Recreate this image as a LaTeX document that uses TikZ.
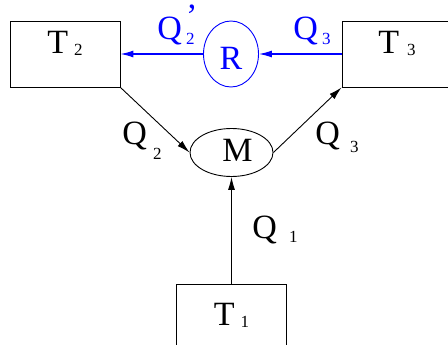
\documentclass[tikz,border=0pt]{standalone}
\usepackage{fontspec}
\setmainfont{Liberation Serif}
\usetikzlibrary{arrows.meta,shapes.geometric}
\newcommand{\lblfont}{\fontsize{34}{34}\selectfont}
\newcommand{\idxfont}{\fontsize{17}{17}\selectfont}
% letter, index, gap, drop of the index
\newcommand{\withidx}[4]{#1\hspace{#3}\raisebox{-#4}{\idxfont #2}}
\tikzset{
  tank/.style={draw, line width=0.9pt, minimum width=110pt, minimum height=66pt,
    inner sep=0pt, font=\lblfont, text height=24pt, text depth=24pt},
  flowlbl/.style={anchor=base west, inner sep=0pt, font=\lblfont},
}

\begin{document}
\begin{tikzpicture}[x=1pt,y=-1pt,line width=0.9pt,>={Latex[length=13pt,width=7pt]}]
\useasboundingbox (0,0) rectangle (448,345);
\clip (0,0) rectangle (448,345);

\node[tank] (t2) at (65,54) {\withidx{T}{2}{6pt}{2pt}};
\node[tank] (t3) at (397,54) {\withidx{T}{3}{8pt}{2pt}};
\node[tank,text depth=8pt] (t1) at (231.5,317) {\withidx{T}{1}{6pt}{2pt}};

\node[ellipse,draw,blue,minimum width=55pt,minimum height=66pt,inner sep=0pt,
  font=\lblfont,text height=32pt,text depth=0pt] (r) at (231,54) {R\hspace{7pt}};
\node[ellipse,draw,minimum width=83pt,minimum height=48pt,inner sep=0pt,
  font=\lblfont,text height=24pt,text depth=7pt] (m) at (231.5,152.5) {\hspace{12pt}M};

\draw[->] (t2.south east) -- (m.west);
\draw[->] (m.east) -- (t3.south west);
\draw[->] (t1.north) -- (m.south);
\draw[->,blue,line width=1.2pt] (t3.west) -- (r.east);
\draw[->,blue,line width=1.2pt] (r.west) -- (t2.east);

\node[flowlbl,blue] (q2r) at (157,40)
  {Q\hspace{4pt}\rlap{\raisebox{12pt}{’}}\raisebox{-5pt}{\idxfont 2}};
\node[flowlbl,blue] (q3r) at (293,40) {\withidx{Q}{3}{4pt}{5pt}};
\node[flowlbl] (q2) at (122,145) {\withidx{Q}{2}{6pt}{15pt}};
\node[flowlbl] (q3) at (315,145) {\withidx{Q}{3}{10pt}{8pt}};
\node[flowlbl] (q1) at (252,238) {\withidx{Q}{1}{12pt}{5pt}};
\end{tikzpicture}
\end{document}
